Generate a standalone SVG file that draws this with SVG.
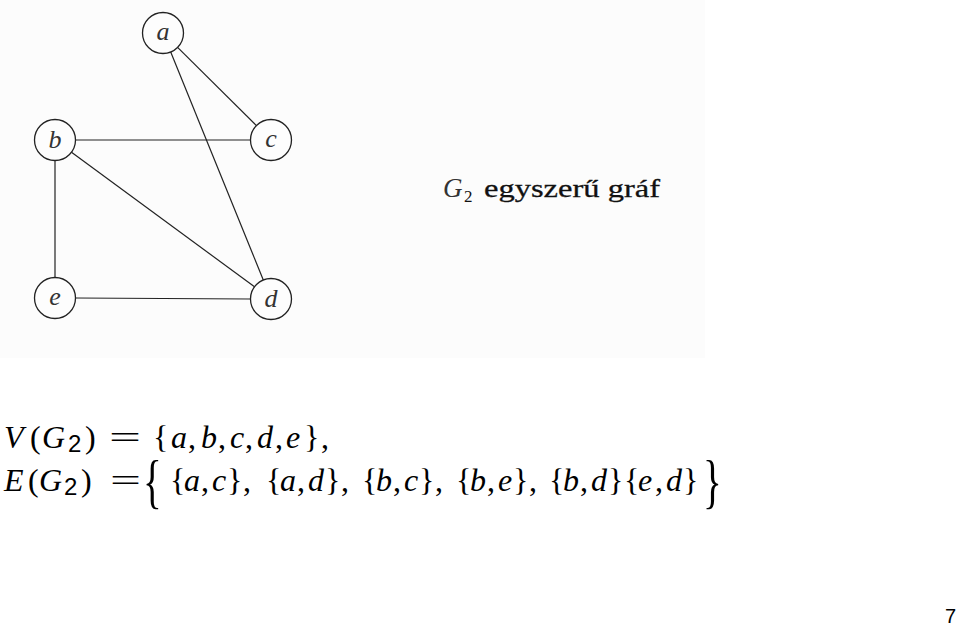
<svg xmlns="http://www.w3.org/2000/svg" width="960" height="628" viewBox="0 0 960 628">
<style>
.node circle{fill:#fdfdfd;stroke:#222;stroke-width:1.3}
.node text{font-family:"Liberation Serif",serif;font-style:italic;font-size:26px;fill:#333;text-anchor:middle}
#edges line{stroke:#222;stroke-width:1.2}
.m{font-family:"Liberation Serif",serif;font-size:32px;fill:#000}
.i{font-style:italic}
.s{font-family:"Liberation Sans",sans-serif;font-size:24px}
</style>
<rect x="0" y="0" width="960" height="628" fill="#ffffff"/>
<rect x="0" y="0" width="705" height="358" fill="#fcfcfc"/>
<g id="edges">
<line x1="177.6" y1="47.4" x2="256.4" y2="125.6"/>
<line x1="170.7" y1="52" x2="263.3" y2="280"/>
<line x1="75.5" y1="140" x2="250.5" y2="140"/>
<line x1="71.5" y1="152.2" x2="254.5" y2="286.8"/>
<line x1="55" y1="160.5" x2="55" y2="277.5"/>
<line x1="75.5" y1="298" x2="250.5" y2="299"/>
</g>
<g id="node-a" class="node"><circle cx="163" cy="33" r="20.5"/><text x="163" y="40">a</text></g>
<g id="node-b" class="node"><circle cx="55" cy="140" r="20.5"/><text x="55" y="148">b</text></g>
<g id="node-c" class="node"><circle cx="271" cy="140" r="20.5"/><text x="271" y="147">c</text></g>
<g id="node-e" class="node"><circle cx="55" cy="298" r="20.5"/><text x="55" y="305">e</text></g>
<g id="node-d" class="node"><circle cx="271" cy="299" r="20.5"/><text x="271" y="307">d</text></g>
<g id="caption" font-family="Liberation Serif, serif" fill="#111">
<text x="443" y="197" font-size="27" font-style="italic" fill="#333">G</text>
<text x="464" y="202" font-size="17">2</text>
<text x="484" y="197" font-size="26" textLength="176" lengthAdjust="spacingAndGlyphs" stroke="#111" stroke-width="0.3">egyszerű gráf</text>
</g>
<g id="formula-V" class="m">
<text y="448"><tspan class="i" x="4">V</tspan><tspan x="30">(</tspan><tspan class="i" x="42">G</tspan></text>
<text x="68" y="452" class="s">2</text>
<text y="448"><tspan x="85">)</tspan></text>
<text x="109" y="448" textLength="32" lengthAdjust="spacingAndGlyphs">=</text>
<text y="448"><tspan x="153">{</tspan><tspan class="i" x="171">a</tspan><tspan x="188">,</tspan><tspan class="i" x="201">b</tspan><tspan x="218">,</tspan><tspan class="i" x="230">c</tspan><tspan x="245">,</tspan><tspan class="i" x="257">d</tspan><tspan x="275">,</tspan><tspan class="i" x="286">e</tspan><tspan x="304">}</tspan><tspan x="321">,</tspan></text>
</g>
<g id="formula-E" class="m">
<text y="491"><tspan class="i" x="4">E</tspan><tspan x="28">(</tspan><tspan class="i" x="39">G</tspan></text>
<text x="64" y="495" class="s">2</text>
<text y="491"><tspan x="81">)</tspan></text>
<text x="110" y="491" textLength="31" lengthAdjust="spacingAndGlyphs">=</text>
<text transform="translate(143,501) scale(0.65,1)" font-size="60">{</text>
<text y="491"><tspan x="170">{</tspan><tspan class="i" x="184">a</tspan><tspan x="201">,</tspan><tspan class="i" x="212">c</tspan><tspan x="227">}</tspan><tspan x="243">,</tspan>
<tspan x="266">{</tspan><tspan class="i" x="280">a</tspan><tspan x="297">,</tspan><tspan class="i" x="308">d</tspan><tspan x="325">}</tspan><tspan x="341">,</tspan>
<tspan x="362">{</tspan><tspan class="i" x="376">b</tspan><tspan x="393">,</tspan><tspan class="i" x="404">c</tspan><tspan x="419">}</tspan><tspan x="435">,</tspan>
<tspan x="456">{</tspan><tspan class="i" x="470">b</tspan><tspan x="487">,</tspan><tspan class="i" x="498">e</tspan><tspan x="513">}</tspan><tspan x="529">,</tspan>
<tspan x="549">{</tspan><tspan class="i" x="563">b</tspan><tspan x="580">,</tspan><tspan class="i" x="591">d</tspan><tspan x="608">}</tspan>
<tspan x="624">{</tspan><tspan class="i" x="638">e</tspan><tspan x="655">,</tspan><tspan class="i" x="666">d</tspan><tspan x="683">}</tspan></text>
<text transform="translate(703,501) scale(0.65,1)" font-size="60">}</text>
</g>
<text id="page" x="945" y="623" font-family="Liberation Sans, sans-serif" font-size="20" fill="#000">7</text>
</svg>
